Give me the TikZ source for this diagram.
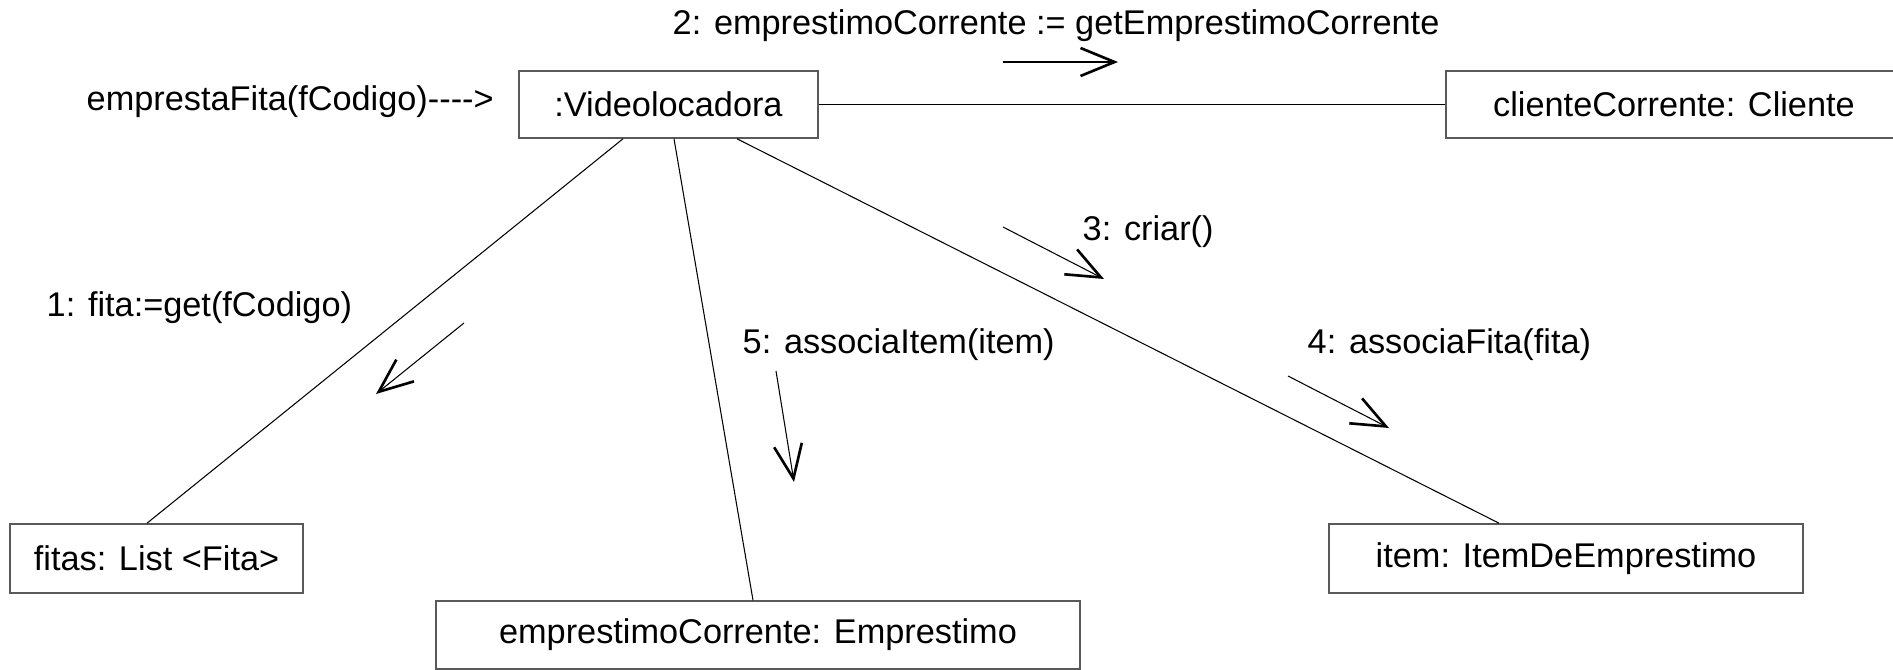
\documentclass[tikz,border=0pt]{standalone}
\usepackage{fontspec}
\setmainfont{Liberation Sans}
\usetikzlibrary{arrows.meta}

\begin{document}
\begin{tikzpicture}\tikzset{obj/.style={draw=black!65, line width=0.45pt, inner sep=0pt}, assoc/.style={line width=0.3pt}, msg/.style={line width=0.3pt, -{Straight Barb[length=0.34cm,width=0.28cm,line width=0.75pt]}}, lbl/.style={anchor=west, inner sep=0pt}, every node/.style={font=\fontsize{9.76}{11.7}\selectfont}}
	\useasboundingbox (0,0) rectangle (18.93,-6.70);
	\node[obj, minimum width=2.99cm, minimum height=0.67cm] (vl) at (6.685,-1.045) {:Videolocadora};
	\node[obj, minimum width=4.56cm, minimum height=0.67cm] (cl) at (16.74,-1.045) {clienteCorrente: Cliente};
	\node[obj, minimum width=2.93cm, minimum height=0.69cm] (fitas) at (1.565,-5.585) {fitas: List <Fita>};
	\node[obj, minimum width=6.44cm, minimum height=0.68cm] (emp) at (7.58,-6.35) {emprestimoCorrente: Emprestimo};
	\node[obj, minimum width=4.74cm, minimum height=0.69cm] (item) at (15.66,-5.585) {item: ItemDeEmprestimo};
	\draw[assoc] (vl) -- (cl);
	\draw[assoc] ([xshift=-0.455cm]vl.south) -- ([xshift=-0.095cm]fitas.north);
	\draw[assoc] ([xshift=0.055cm]vl.south) -- ([xshift=-0.05cm]emp.north);
	\draw[assoc] ([xshift=0.685cm]vl.south) -- ([xshift=-0.67cm]item.north);
	\node[lbl] (call) at (0.86,-1.02) {emprestaFita(fCodigo)-\kern0pt-\kern0pt-\kern0pt->};
	\node[lbl] (t2) at (6.72,-0.26) {2: emprestimoCorrente := getEmprestimoCorrente};
	\node[lbl] (t1) at (0.46,-3.08) {1: fita:=get(fCodigo)};
	\node[lbl] (t5) at (7.42,-3.45) {5: associaItem(item)};
	\node[lbl] (t3) at (10.82,-2.32) {3: criar()};
	\node[lbl] (t4) at (13.07,-3.45) {4: associaFita(fita)};
	\coordinate (m2a) at (10.03,-0.62); \coordinate (m2b) at (11.18,-0.62);
	\coordinate (m1a) at (4.64,-3.23); \coordinate (m1b) at (3.76,-3.94);
	\coordinate (m5a) at (7.76,-3.71); \coordinate (m5b) at (7.94,-4.82);
	\coordinate (m3a) at (10.03,-2.27); \coordinate (m3b) at (11.04,-2.79);
	\coordinate (m4a) at (12.88,-3.76); \coordinate (m4b) at (13.89,-4.28);
	\draw[msg] (m2a) -- (m2b);
	\draw[msg] (m1a) -- (m1b);
	\draw[msg] (m5a) -- (m5b);
	\draw[msg] (m3a) -- (m3b);
	\draw[msg] (m4a) -- (m4b);
\end{tikzpicture}
\end{document}
